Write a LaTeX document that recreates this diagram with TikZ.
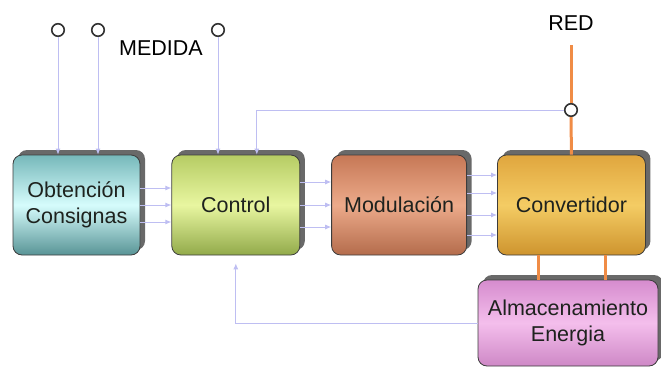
\documentclass[tikz,border=0pt]{standalone}
\usepackage{fontspec}
\setmainfont{Liberation Sans}
\usepackage{xcolor}
\definecolor{sigline}{RGB}{190,190,242}
\definecolor{powerline}{RGB}{240,140,70}
\definecolor{boxedge}{RGB}{60,60,60}
\definecolor{shadowgray}{RGB}{105,105,105}
\definecolor{boxtext}{RGB}{30,34,30}
\definecolor{obttop}{RGB}{118,184,186}
\definecolor{obtmid}{RGB}{214,252,252}
\definecolor{obtbot}{RGB}{88,148,150}
\definecolor{ctltop}{RGB}{182,204,100}
\definecolor{ctlmid}{RGB}{232,246,160}
\definecolor{ctlbot}{RGB}{146,170,74}
\definecolor{modtop}{RGB}{198,120,86}
\definecolor{modmid}{RGB}{236,170,138}
\definecolor{modbot}{RGB}{180,108,76}
\definecolor{convtop}{RGB}{224,166,62}
\definecolor{convmid}{RGB}{244,204,100}
\definecolor{convbot}{RGB}{206,148,46}
\definecolor{almtop}{RGB}{214,140,206}
\definecolor{almmid}{RGB}{244,190,236}
\definecolor{almbot}{RGB}{206,136,198}
\usepackage{tikz}
\usetikzlibrary{arrows.meta,positioning,shadows}

\begin{document}
\begin{tikzpicture}[x=1pt,y=-1pt,
        node distance=31pt,
        box/.style={rectangle,draw=boxedge,line width=0.8pt,rounded corners=9pt,
                    minimum height=100pt,align=center,text=boxtext,
                    font=\fontsize{21.5}{26}\selectfont,
                    general shadow={fill=shadowgray,shadow xshift=5pt,shadow yshift=5pt}},
        sig/.style={draw=sigline,line width=0.9pt,-{Latex[length=6pt,width=5pt]}},
        power/.style={draw=powerline,line width=3pt},
        port/.style={circle,draw=black!80,line width=1.6pt,fill=white,
                     minimum size=12.5pt,inner sep=0pt},
        lbl/.style={font=\fontsize{21.5}{26}\selectfont}
      ]
        \useasboundingbox (0,0) rectangle (661,367);

        % bloques
        \node[box,minimum width=127pt,top color=obttop,bottom color=obtbot,middle color=obtmid]
          (obt) at (76.5,205) {Obtención\\Consignas};
        \node[box,minimum width=128pt,right=of obt,top color=ctltop,bottom color=ctlbot,middle color=ctlmid]
          (ctrl) {Control};
        \node[box,minimum width=135pt,right=of ctrl,top color=modtop,bottom color=modbot,middle color=modmid]
          (mod) {Modulación};
        \node[box,minimum width=148pt,right=30pt of mod,top color=convtop,bottom color=convbot,middle color=convmid]
          (conv) {Convertidor};
        \node[box,minimum width=180pt,minimum height=86pt,top color=almtop,bottom color=almbot,middle color=almmid]
          (alm) at (568,323) {Almacenamiento\\Energia};

        % medidas y red
        \node[port] (m1) at (58,30) {};
        \node[port] (m2) at (98,30) {};
        \node[port] (m3) at (218,30) {};
        \node[lbl] (med) at (161,48) {MEDIDA};
        \node[lbl] (red) at (571,23) {RED};
        \coordinate (redtop) at (571,45);
        \node[port] (rp) at (571,110) {};

        \draw[power] (redtop) -- (rp);
        \draw[power] (rp) -- (conv.north);
        \draw[power] ([xshift=-33pt]conv.south) -- ([xshift=-33pt]conv.south |- alm.north);
        \draw[power] ([xshift=34pt]conv.south) -- ([xshift=34pt]conv.south |- alm.north);

        \draw[sig] (m1) -- (m1 |- obt.north);
        \draw[sig] (m2) -- (m2 |- obt.north);
        \draw[sig] (m3) -- (m3 |- ctrl.north);
        \draw[sig] (rp.west) -| ([xshift=21pt]ctrl.north);
        \draw[sig] (alm.west) -| ([yshift=-8pt]ctrl.south);

        % senales entre bloques
        \foreach \dy in {17,0,-17}
          \draw[sig] ([yshift=\dy pt]obt.east) -- ([yshift=\dy pt]obt.east -| ctrl.west);
        \foreach \dy in {23,0,-22}
          \draw[sig] ([yshift=\dy pt]ctrl.east) -- ([yshift=\dy pt]ctrl.east -| mod.west);
        \foreach \dy in {30,12,-10,-30}
          \draw[sig] ([yshift=\dy pt]mod.east) -- ([yshift=\dy pt]mod.east -| conv.west);
      \end{tikzpicture}
\end{document}
